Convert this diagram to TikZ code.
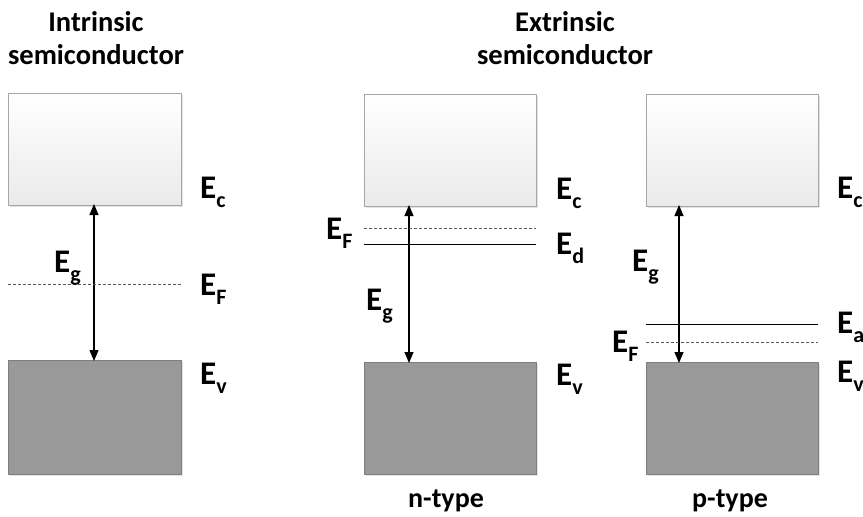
\documentclass[tikz,border=0pt]{standalone}
\usepackage{fontspec}
\setmainfont{Carlito}
\usetikzlibrary{arrows.meta,shadows}
\definecolor{bandedge}{HTML}{A6A6A6}
\definecolor{valfill}{HTML}{999999}
\definecolor{valedge}{HTML}{7F7F7F}
\definecolor{condtop}{HTML}{FFFFFF}
\definecolor{condbot}{HTML}{EAEAEA}
% energy label: E with lowered subscript
\newcommand{\lvl}[1]{E\raisebox{-0.3em}{\fontsize{22}{22}\selectfont #1}}
\tikzset{
  x=1pt, y=-1pt,
  condband/.style={draw=bandedge, line width=0.8pt, top color=condtop, bottom color=condbot,
    drop shadow={shadow xshift=1.5pt, shadow yshift=-1.5pt, fill=black!18, opacity=0.6}},
  valband/.style={draw=valedge, line width=0.8pt, fill=valfill,
    drop shadow={shadow xshift=1.5pt, shadow yshift=-1.5pt, fill=black!18, opacity=0.6}},
  elabel/.style={anchor=base west, inner sep=0pt, font=\fontsize{33}{33}\selectfont\bfseries},
  title/.style={align=center, font=\fontsize{28.5}{33}\selectfont\bfseries, inner sep=0pt},
  typelabel/.style={anchor=base, inner sep=0pt, font=\fontsize{28}{28}\selectfont\bfseries},
  gap/.style={line width=1.2pt, {Triangle[length=11pt,width=9pt]}-{Triangle[length=11pt,width=9pt]}},
  fermi/.style={densely dashed, draw=black!65, line width=0.7pt},
  dopant/.style={draw=black, line width=0.6pt}
}
\begin{document}
\begin{tikzpicture}
\useasboundingbox (0,0) rectangle (863,517);

% titles
\node[title] (tint) at (96,38) {Intrinsic\\semiconductor};
\node[title] (text) at (565,38) {Extrinsic\\semiconductor};

% ---------- intrinsic ----------
\path[condband] (8,93) rectangle (181,205);
\path[valband] (8,360) rectangle (181,474);
\coordinate (icb) at (94,204);
\coordinate (ivb) at (94,361);
\draw[gap] (ivb) -- (icb);
\coordinate (ifl) at (8,284);
\coordinate (ifr) at (181,284);
\draw[fermi] (ifl) -- (ifr);
\node[elabel] (iEc) at (200,198) {\lvl{c}};
\node[elabel] (iEF) at (200,295) {\lvl{F}};
\node[elabel] (iEv) at (200,384) {\lvl{v}};
\node[elabel] (iEg) at (54,272) {\lvl{g}};

% ---------- n-type ----------
\path[condband] (364,94) rectangle (536,206);
\path[valband] (364,362) rectangle (536,474);
\coordinate (ncb) at (409,205);
\coordinate (nvb) at (409,363);
\draw[gap] (nvb) -- (ncb);
\coordinate (nfl) at (364,228);
\coordinate (nfr) at (536,228);
\draw[fermi] (nfl) -- (nfr);
\coordinate (ndl) at (364,244);
\coordinate (ndr) at (536,244);
\draw[dopant] (ndl) -- (ndr);
\node[elabel] (nEc) at (556,199) {\lvl{c}};
\node[elabel] (nEd) at (556,254) {\lvl{d}};
\node[elabel] (nEF) at (326,239) {\lvl{F}};
\node[elabel] (nEg) at (366,310) {\lvl{g}};
\node[elabel] (nEv) at (556,385) {\lvl{v}};
\node[typelabel] (ntype) at (446,507) {n-type};

% ---------- p-type ----------
\path[condband] (646,94) rectangle (818,206);
\path[valband] (646,362) rectangle (818,474);
\coordinate (pcb) at (679,205);
\coordinate (pvb) at (679,363);
\draw[gap] (pvb) -- (pcb);
\coordinate (pal) at (646,324);
\coordinate (par) at (818,324);
\draw[dopant] (pal) -- (par);
\coordinate (pfl) at (646,342);
\coordinate (pfr) at (818,342);
\draw[fermi] (pfl) -- (pfr);
\node[elabel] (pEc) at (837,198) {\lvl{c}};
\node[elabel] (pEa) at (837,333) {\lvl{a}};
\node[elabel] (pEF) at (612,352) {\lvl{F}};
\node[elabel] (pEg) at (632,271) {\lvl{g}};
\node[elabel] (pEv) at (837,382) {\lvl{v}};
\node[typelabel] (ptype) at (730,507) {p-type};
\end{tikzpicture}
\end{document}
